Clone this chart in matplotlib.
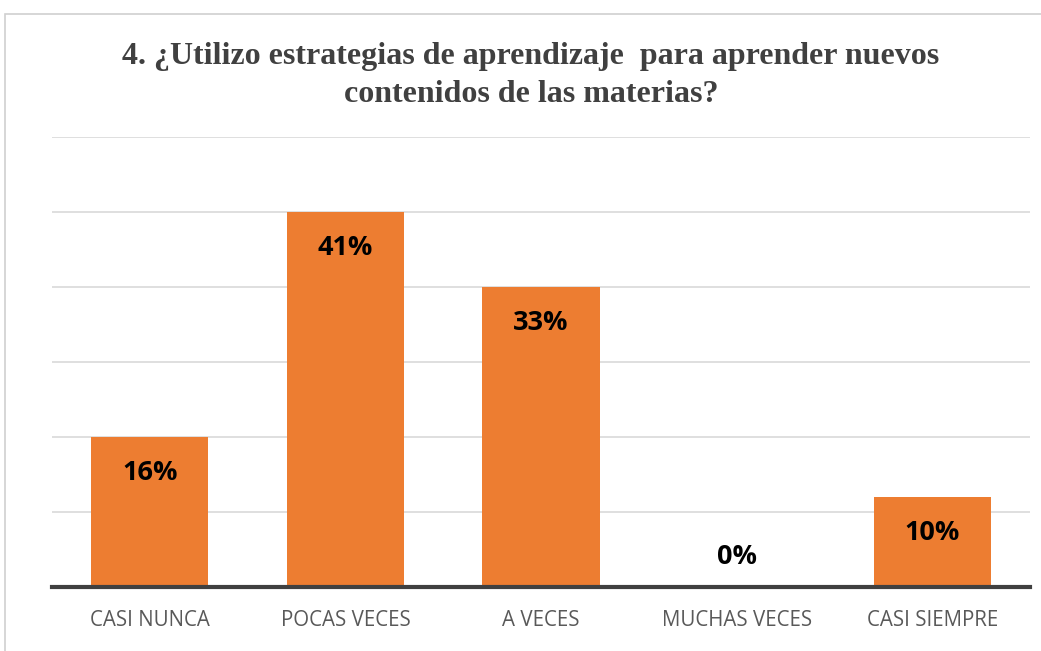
import matplotlib
matplotlib.use("Agg")
import matplotlib.pyplot as plt
from matplotlib.patches import Rectangle

categories = ["CASI NUNCA", "POCAS VECES", "A VECES", "MUCHAS VECES", "CASI SIEMPRE"]
counts = [10, 25, 20, 0, 6]
pct_labels = ["16%", "41%", "33%", "0%", "10%"]
title = "4. ¿Utilizo estrategias de aprendizaje  para aprender nuevos\ncontenidos de las materias?"

bar_color = "#ED7D31"
text_gray = "#595959"

fig = plt.figure(figsize=(10.41, 6.51), dpi=100)
ax = fig.add_axes([52 / 1041, 1 - 587 / 651, 978 / 1041, (587 - 137) / 651])

x = range(len(categories))
bars = ax.bar(x, counts, width=0.6, color=bar_color, zorder=3)

ax.set_xlim(-0.5, len(categories) - 0.5)
ax.set_ylim(0, 30)
ax.set_yticks(range(0, 31, 5))
ax.yaxis.grid(True, color="#d9d9d9", linewidth=1.2, zorder=0)
ax.tick_params(axis="y", left=False, labelleft=False)
ax.set_xticks(list(x))
ax.set_xticklabels(categories, fontsize=14.8, color=text_gray, family="Open Sans")
ax.tick_params(axis="x", length=0, pad=16.5)
for side in ["top", "left", "right"]:
    ax.spines[side].set_visible(False)
ax.spines["bottom"].set_color("#404040")
ax.spines["bottom"].set_linewidth(3)
ax.spines["bottom"].set_zorder(4)

for b, lab in zip(bars, pct_labels):
    h = b.get_height()
    if h > 0:
        ax.annotate(lab, (b.get_x() + b.get_width() / 2, h), xytext=(0, -35),
                    textcoords="offset points", ha="center", va="bottom",
                    fontsize=19.5, fontweight="bold", family="Open Sans", color="black")
    else:
        ax.annotate(lab, (b.get_x() + b.get_width() / 2, 0), xytext=(0, 12),
                    textcoords="offset points", ha="center", va="bottom",
                    fontsize=19.5, fontweight="bold", family="Open Sans", color="black")

fig.text(531 / 1041, 1 - 75.5 / 651, title, ha="center", va="center",
         fontsize=23, fontweight="bold", family="Liberation Serif",
         color="#404040", linespacing=1.38)

# chart frame
fig.patches.append(Rectangle((5 / 1041, -0.05), 1.1, 1 - 14 / 651 + 0.05,
                             transform=fig.transFigure, fill=False,
                             edgecolor="#d0d0d0", linewidth=1.2))

fig.savefig("out.png", dpi=100, facecolor="white")
